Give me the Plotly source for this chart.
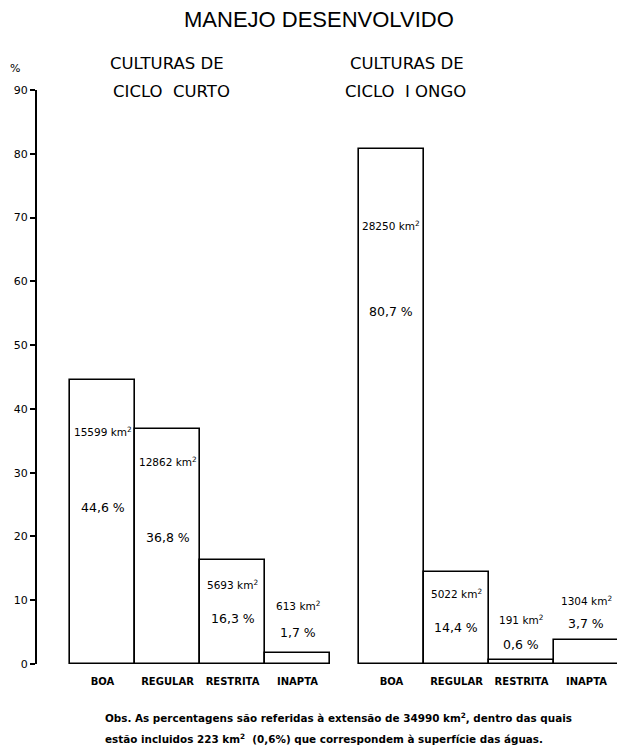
import plotly.graph_objects as go

# ---- data ----
categories = ["BOA", "REGULAR", "RESTRITA", "INAPTA"]
curto_pct = [44.6, 36.8, 16.3, 1.7]
curto_km2 = [15599, 12862, 5693, 613]
longo_pct = [80.7, 14.4, 0.6, 3.7]
longo_km2 = [28250, 5022, 191, 1304]
y_ticks = [0, 10, 20, 30, 40, 50, 60, 70, 80, 90]

# ---- layout constants ----
W, H = 617, 749
ML, MR, MT, MB = 37, 0, 90, 749 - 664
PW, PH = W - ML - MR, H - MT - MB
BAR_PX = 65.0
GROUP_GAP = 0.446            # gap between the two groups in bar widths
x_lo = -(70 - 37) / BAR_PX
x_hi = x_lo + PW / BAR_PX

left_x = [i + 0.5 for i in range(len(categories))]
right_x = [len(categories) + GROUP_GAP + i + 0.5 for i in range(len(categories))]

# label heights (axis units) for the text inside bars
curto_km_y = [36.4, 31.7, 12.4, 9.25]
curto_pct_y = [24.5, 19.9, 7.2, 5.0]
longo_km_y = [68.8, 11.1, 7.05, 9.9]
longo_pct_y = [55.2, 5.8, 3.1, 6.4]

FONT = "DejaVu Sans"
fig = go.Figure()
for xs, ys in [(left_x, curto_pct), (right_x, longo_pct)]:
    fig.add_trace(go.Bar(
        x=xs, y=ys, width=1.0,
        marker=dict(color="white", line=dict(color="black", width=1.6)),
        showlegend=False, hoverinfo="skip",
    ))

ann = []
def px_ann(text, px, py, size, xanchor="center", family=FONT, weight="normal"):
    # px, py are picture pixel coordinates
    ann.append(dict(text=text, xref="paper", yref="paper",
                    x=(px - ML) / PW, y=(664 - py) / PH,
                    xanchor=xanchor, yanchor="middle", showarrow=False,
                    font=dict(family=family, size=size, color="black", weight=weight)))

def fmt_pct(v):
    return f"{v:.1f}".replace(".", ",") + " %"

for xs, kms, pcts, kys, pys in [
    (left_x, curto_km2, curto_pct, curto_km_y, curto_pct_y),
    (right_x, longo_km2, longo_pct, longo_km_y, longo_pct_y),
]:
    for x, km, p, ky, py in zip(xs, kms, pcts, kys, pys):
        ann.append(dict(text=f"{km} km<sup>2</sup>", x=x, y=ky, xref="x", yref="y",
                        showarrow=False, yanchor="middle",
                        font=dict(family=FONT, size=10.5, color="black")))
        ann.append(dict(text=fmt_pct(p), x=x, y=py, xref="x", yref="y",
                        showarrow=False, yanchor="middle",
                        font=dict(family=FONT, size=12.5, color="black")))

px_ann("MANEJO DESENVOLVIDO", 319, 20, 22, family="Liberation Sans")
px_ann("CULTURAS DE", 167, 64, 16.5)
px_ann("CICLO  CURTO", 171, 92, 16.5)
px_ann("CULTURAS DE", 407, 64, 16.5)
px_ann("CICLO  I ONGO", 405, 92, 16.5)
px_ann("%", 15, 69, 11)
px_ann("Obs. As percentagens são referidas à extensão de 34990 km<sup>2</sup>, dentro das quais",
       103, 718, 10.4, xanchor="left", weight="bold")
px_ann("estão incluidos 223 km<sup>2</sup>  (0,6%) que correspondem à superfície das águas.",
       103, 738, 10.4, xanchor="left", weight="bold")

fig.update_layout(
    width=W, height=H,
    margin=dict(l=ML, r=MR, t=MT, b=MB, autoexpand=False),
    paper_bgcolor="white", plot_bgcolor="white",
    annotations=ann,
    bargap=0,
    xaxis=dict(range=[x_lo, x_hi], tickvals=left_x + right_x,
               ticktext=categories + categories, ticks="", showline=False,
               zeroline=False, showgrid=False, ticklabelstandoff=10,
               tickfont=dict(family=FONT, size=10, color="black", weight="bold")),
    yaxis=dict(range=[0, 90], tickvals=y_ticks, ticks="outside", ticklen=5,
               tickwidth=1.5, tickcolor="black", showline=True, linewidth=2,
               linecolor="black", zeroline=False, showgrid=False,
               tickfont=dict(family=FONT, size=11, color="black")),
)
fig.write_html("out.html", config={"displayModeBar": False},
               post_script="document.body.style.margin='0';document.body.style.overflow='hidden';")
